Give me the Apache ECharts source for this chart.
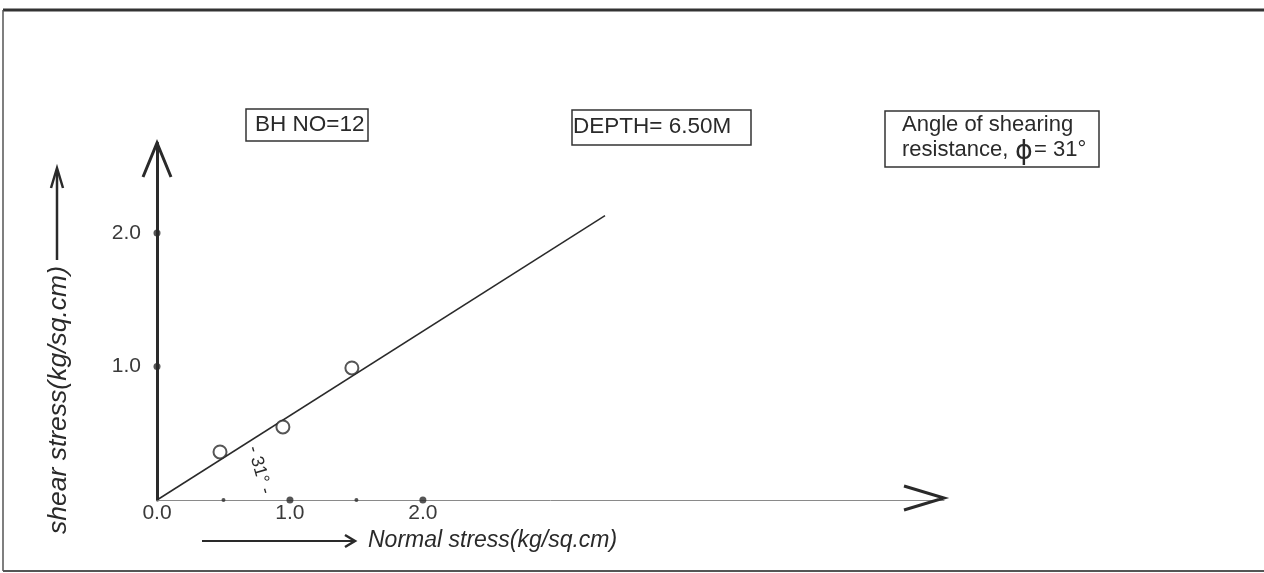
<!DOCTYPE html>
<html>
<head>
<meta charset="utf-8">
<script src="https://cdn.jsdelivr.net/npm/echarts@6/dist/echarts.min.js"></script>
<style>
html,body{margin:0;padding:0;background:#fff;}
#chart{width:1264px;height:573px;}
</style>
</head>
<body>
<div id="chart"></div>
<script>
// ---- data ----
const sampleNormal = [0.474, 0.947, 1.466];
const sampleShear = [0.36, 0.547, 0.989];
const envelopeNormal = [0, 3.37];
const envelopeShear = [0, 2.13];
const xTickValues = [0, 1, 2];
const xTickLabels = ['0.0', '1.0', '2.0'];
const yTickValues = [1, 2];
const yTickLabels = ['1.0', '2.0'];
const xMajorDots = [1, 2];
const xMinorDots = [0.5, 1.5];
const yMajorDots = [1, 2];
const frictionAngle = 31;
const boreholeText = 'BH NO=12';
const depthText = 'DEPTH= 6.50M';
const angleLine1 = 'Angle of shearing';
const angleLine2a = 'resistance,';
const angleLine2b = '= ' + frictionAngle + '\u00B0';
const xAxisTitle = 'Normal stress(kg/sq.cm)';
const yAxisTitle = 'shear stress(kg/sq.cm)';

const X_MAX = 5.92, Y_MAX = 2.674;
const FONT = '"Liberation Sans", Arial, sans-serif';
const INK = '#2a2a2a';

const chart = echarts.init(document.getElementById('chart'), null, {renderer: 'canvas'});

function pick(values, labels) {
  return function (v) {
    const i = values.findIndex(t => Math.abs(t - v) < 1e-6);
    return i >= 0 ? labels[i] : '';
  };
}

const option = {
  animation: false,
  backgroundColor: '#fff',
  grid: {left: 157, top: 143, right: 320, bottom: 73, containLabel: false},
  xAxis: {
    type: 'value', min: 0, max: X_MAX, interval: 0.5,
    splitLine: {show: false},
    axisTick: {show: false},
    axisLine: {lineStyle: {color: '#8a8a8a', width: 1}},
    axisLabel: {formatter: pick(xTickValues, xTickLabels), color: '#3a3a3a',
      fontFamily: FONT, fontSize: 21, margin: 3, showMaxLabel: false}
  },
  yAxis: {
    type: 'value', min: 0, max: Y_MAX, interval: 1,
    splitLine: {show: false},
    axisTick: {show: false},
    axisLine: {lineStyle: {color: INK, width: 3}},
    axisLabel: {formatter: pick(yTickValues, yTickLabels), color: '#3a3a3a',
      fontFamily: FONT, fontSize: 21, margin: 16, showMaxLabel: false}
  },
  series: [
    {type: 'line', name: 'envelope', symbol: 'none', z: 3,
      data: envelopeNormal.map((x, i) => [x, envelopeShear[i]]),
      lineStyle: {color: INK, width: 1.5}},
    {type: 'scatter', name: 'samples', symbol: 'emptyCircle', symbolSize: 13, z: 4,
      data: sampleNormal.map((x, i) => [x, sampleShear[i]]),
      itemStyle: {color: INK, borderColor: INK, borderWidth: 1.6}},
    {type: 'scatter', name: 'majorDots', symbol: 'circle', symbolSize: 7, z: 4, clip: false,
      data: xMajorDots.map(x => [x, 0]).concat(yMajorDots.map(y => [0, y])),
      itemStyle: {color: INK}},
    {type: 'scatter', name: 'minorDots', symbol: 'circle', symbolSize: 4, z: 4,
      data: xMinorDots.map(x => [x, 0]),
      itemStyle: {color: INK}}
  ]
};
chart.setOption(option);

// annotation anchors from the library scales
const toPx = p => chart.convertToPixel({gridIndex: 0}, p);
const angPos = toPx([0.77, 0.225]);
const yTip = toPx([0, Y_MAX]);
const xTip = toPx([X_MAX, 0]);

chart.setOption({
  graphic: [
    // frame
    {type: 'line', shape: {x1: 3, y1: 10, x2: 1264, y2: 10}, style: {stroke: '#333', lineWidth: 3}},
    {type: 'line', shape: {x1: 3, y1: 10, x2: 3, y2: 571}, style: {stroke: '#555', lineWidth: 1.5}},
    {type: 'line', shape: {x1: 3, y1: 571, x2: 1264, y2: 571}, style: {stroke: '#555', lineWidth: 2}},
    // axis arrowheads (open chevrons)
    {type: 'polyline', z: 10, shape: {points: [[yTip[0] - 14, yTip[1] + 34], [yTip[0], yTip[1]], [yTip[0] + 14, yTip[1] + 34]]},
      style: {stroke: INK, lineWidth: 3, fill: null}},
    {type: 'polyline', z: 10, shape: {points: [[xTip[0] - 40, xTip[1] - 14], [xTip[0], xTip[1] - 2], [xTip[0] - 40, xTip[1] + 10]]},
      style: {stroke: INK, lineWidth: 3, fill: null}},
    // BH box
    {type: 'rect', shape: {x: 246, y: 109, width: 122, height: 32}, style: {fill: '#fff', stroke: '#333', lineWidth: 1.5}},
    {type: 'text', x: 255, y: 125, style: {text: boreholeText, font: '22.5px ' + FONT, fill: INK, verticalAlign: 'middle'}},
    // depth box
    {type: 'rect', shape: {x: 572, y: 110, width: 179, height: 35}, style: {fill: '#fff', stroke: '#333', lineWidth: 1.5}},
    {type: 'text', x: 573, y: 127, style: {text: depthText, font: '22.5px ' + FONT, fill: INK, verticalAlign: 'middle'}},
    // angle box
    {type: 'rect', shape: {x: 885, y: 111, width: 214, height: 56}, style: {fill: '#fff', stroke: '#333', lineWidth: 1.5}},
    {type: 'text', x: 902, y: 125, style: {text: angleLine1, font: '22px ' + FONT, fill: INK, verticalAlign: 'middle'}},
    {type: 'text', x: 902, y: 150, style: {text: angleLine2a, font: '22px ' + FONT, fill: INK, verticalAlign: 'middle'}},
    {type: 'text', x: 1024, y: 152, style: {text: '\u03D5', font: '27px "DejaVu Sans", sans-serif', fill: INK, align: 'center', verticalAlign: 'middle'}},
    {type: 'text', x: 1034, y: 150, style: {text: angleLine2b, font: '22px ' + FONT, fill: INK, verticalAlign: 'middle'}},
    // angle annotation
    {type: 'text', x: angPos[0], y: angPos[1], rotation: -74 * Math.PI / 180,
      style: {text: '- ' + frictionAngle + '\u00B0 -', font: '18px ' + FONT, fill: INK, align: 'center', verticalAlign: 'middle'}},
    // y axis title + arrow
    {type: 'text', x: 59, y: 400, rotation: Math.PI / 2,
      style: {text: yAxisTitle, font: 'italic 26.5px ' + FONT, fill: INK, align: 'center', verticalAlign: 'middle'}},
    {type: 'line', shape: {x1: 57, y1: 260, x2: 57, y2: 170}, style: {stroke: INK, lineWidth: 2.5}},
    {type: 'polyline', shape: {points: [[51, 188], [57, 168], [63, 188]]}, style: {stroke: INK, lineWidth: 2.5, fill: null}},
    // x axis title + arrow
    {type: 'line', shape: {x1: 202, y1: 541, x2: 353, y2: 541}, style: {stroke: INK, lineWidth: 2}},
    {type: 'polyline', shape: {points: [[345, 535], [355, 541], [345, 547]]}, style: {stroke: INK, lineWidth: 2.5, fill: null}},
    {type: 'text', x: 368, y: 541, style: {text: xAxisTitle, font: 'italic 23px ' + FONT, fill: INK, verticalAlign: 'middle'}}
  ]
});
</script>
</body>
</html>
